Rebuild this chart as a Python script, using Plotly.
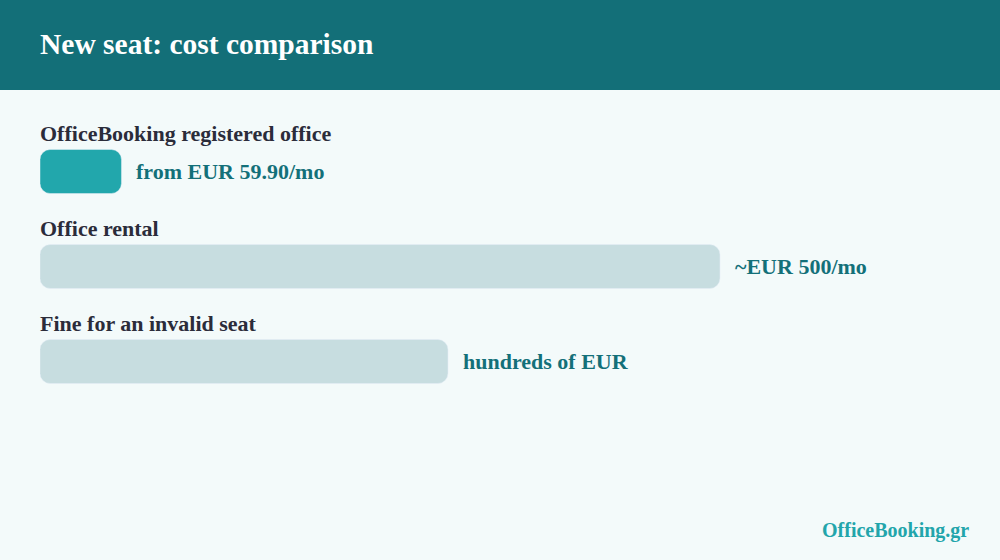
import plotly.graph_objects as go

categories = ["OfficeBooking registered office", "Office rental", "Fine for an invalid seat"]
values = [59.9, 500, 300]
value_labels = ["from EUR 59.90/mo", "~EUR 500/mo", "hundreds of EUR"]
bar_colors = ["#22a7ac", "#c7dde0", "#c7dde0"]

serif = "Liberation Serif, Times New Roman, serif"
teal = "#137079"

fig = go.Figure()
# an explicit base makes plotly round both ends of the bar
fig.add_trace(go.Bar(x=values, base=[0] * len(values), y=categories, orientation="h",
                     marker=dict(color=bar_colors, cornerradius=10), width=0.463, hoverinfo="skip"))

for cat, v, lab in zip(categories, values, value_labels):
    fig.add_annotation(x=0, y=cat, text="<b>" + cat + "</b>", xanchor="left", yanchor="middle",
                       xshift=-2, yshift=38, showarrow=False, font=dict(family=serif, size=22, color="#2b2c3a"))
    fig.add_annotation(x=v, y=cat, text="<b>" + lab + "</b>", xanchor="left", yanchor="middle",
                       xshift=13, showarrow=False, font=dict(family=serif, size=22, color=teal))

# header band
fig.add_shape(type="rect", xref="paper", yref="paper", x0=-1, x1=2, y0=1 + 34 / 285, y1=1 + 130 / 285,
              fillcolor="#136f78", line_width=0, layer="below")
fig.add_annotation(xref="paper", yref="paper", x=0, xshift=-2, y=1 + 80.5 / 285,
                   text="<b>New seat: cost comparison</b>",
                   xanchor="left", yanchor="middle", showarrow=False,
                   font=dict(family=serif, size=29.5, color="white"))
fig.add_annotation(xref="paper", yref="paper", x=1, xshift=11, y=-121 / 285, text="<b>OfficeBooking.gr</b>",
                   xanchor="right", yanchor="middle", showarrow=False,
                   font=dict(family=serif, size=20, color="#22a5ab"))

fig.update_layout(
    width=1000, height=560,
    margin=dict(l=40, r=40, t=124, b=151, pad=0),
    paper_bgcolor="#f3fafa", plot_bgcolor="#f3fafa",
    showlegend=False,
    xaxis=dict(range=[0, 676.5], visible=False, fixedrange=True),
    yaxis=dict(range=[2.5, -0.5], visible=False, fixedrange=True),
)

fig.write_html("out.html", config={"displayModeBar": False},
               post_script="document.body.style.margin='0';document.body.style.background='#f3fafa';")
